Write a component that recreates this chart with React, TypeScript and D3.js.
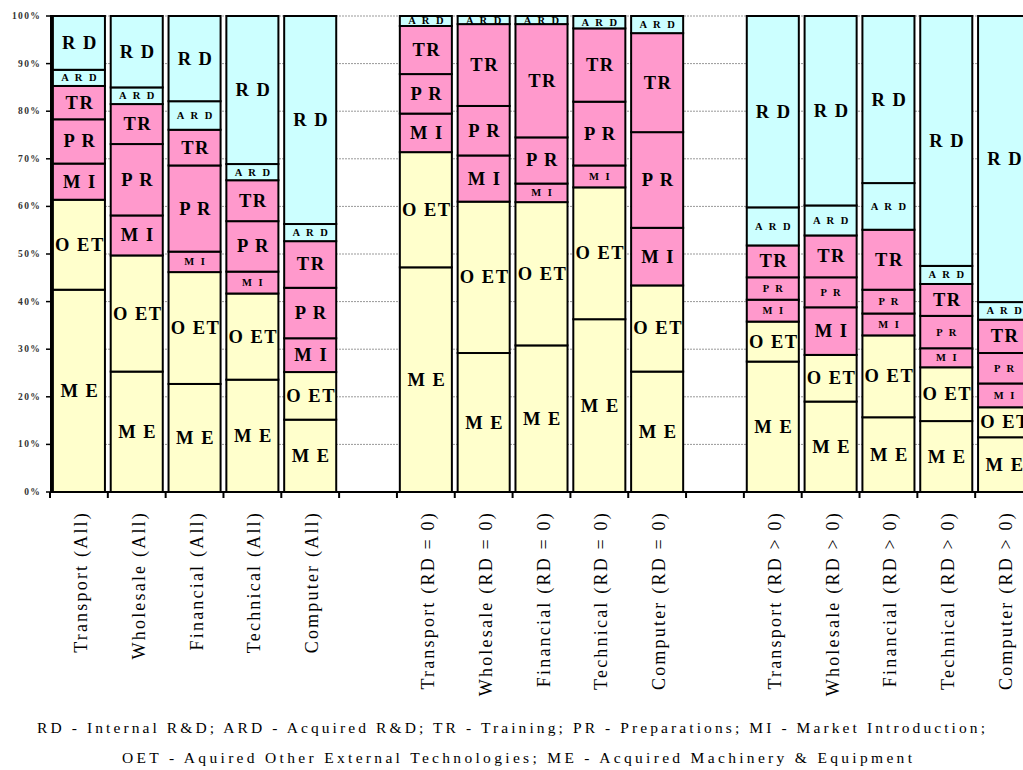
import React from "react";
import * as d3 from "d3";

const categories = [
  "Transport (All)", "Wholesale (All)", "Financial (All)", "Technical (All)", "Computer (All)",
  "Transport (RD = 0)", "Wholesale (RD = 0)", "Financial (RD = 0)", "Technical (RD = 0)", "Computer (RD = 0)",
  "Transport (RD > 0)", "Wholesale (RD > 0)", "Financial (RD > 0)", "Technical (RD > 0)", "Computer (RD > 0)",
];
const groupOf = [0, 0, 0, 0, 0, 1, 1, 1, 1, 1, 2, 2, 2, 2, 2];

const seriesKeys = ["ME", "OET", "MI", "PR", "TR", "ARD", "RD"];
const seriesLabels = ["M E", "O ET", "M I", "P R", "TR", "A R D", "R D"];

const ME = [42.5, 25.3, 22.7, 23.6, 15.2, 47.2, 29.2, 30.8, 36.3, 25.3, 27.4, 19.0, 15.7, 14.9, 11.5];
const OET = [18.9, 24.4, 23.5, 18.1, 10.0, 24.2, 31.8, 30.1, 27.7, 18.1, 8.4, 9.8, 17.2, 11.3, 6.3];
const MI = [7.6, 8.4, 4.3, 4.6, 7.1, 8.1, 9.7, 3.9, 4.6, 12.1, 4.6, 10.0, 4.6, 4.0, 5.0];
const PR = [9.3, 15.0, 18.1, 10.6, 10.6, 8.3, 10.4, 9.7, 13.4, 20.1, 4.7, 6.3, 5.0, 6.8, 6.4];
const TR = [7.0, 8.4, 7.5, 8.6, 9.8, 10.1, 17.2, 23.8, 15.4, 20.8, 6.7, 8.8, 12.6, 6.7, 7.0];
const ARD = [3.4, 3.5, 6.0, 3.4, 3.6, 2.1, 1.7, 1.7, 2.6, 3.6, 8.0, 6.3, 9.8, 3.8, 3.7];
const RD = [11.3, 15.0, 17.9, 31.1, 43.7, 0, 0, 0, 0, 0, 40.2, 39.8, 35.1, 52.5, 60.1];

const yTicks = [0, 10, 20, 30, 40, 50, 60, 70, 80, 90, 100];
const yTickLabels = ["0%", "10%", "20%", "30%", "40%", "50%", "60%", "70%", "80%", "90%", "100%"];

const legendLines = [
  "RD - Internal R&D; ARD - Acquired R&D; TR - Training; PR - Preparations; MI - Market Introduction;",
  "OET - Aquired Other External Technologies; ME - Acquired Machinery & Equipment",
];

const colors: Record<string, string> = {
  ME: "#FFFFCC",
  OET: "#FFFFCC",
  MI: "#FF99CC",
  PR: "#FF99CC",
  TR: "#FF99CC",
  ARD: "#CCFFFF",
  RD: "#CCFFFF",
};

const W = 1023;
const H = 770;
const plotLeft = 51;
const plotTop = 16;
const plotBottom = 492;

export default function App() {
  const table = categories.map((c, i) => ({
    cat: c,
    ME: ME[i], OET: OET[i], MI: MI[i], PR: PR[i], TR: TR[i], ARD: ARD[i], RD: RD[i],
  }));

  // slots: 5 bars, gap, 5 bars, gap, 5 bars
  const slots: string[] = [];
  categories.forEach((c, i) => {
    if (i > 0 && groupOf[i] !== groupOf[i - 1]) slots.push("gap" + groupOf[i]);
    slots.push(c);
  });

  const x = d3.scaleBand<string>().domain(slots).range([50, 1033]).paddingInner(0.1).paddingOuter(0.05);
  const y = d3.scaleLinear().domain([0, 1]).range([plotBottom, plotTop]);
  const yPct = d3.scaleLinear().domain([0, 100]).range([plotBottom, plotTop]);

  const stack = d3.stack<any>().keys(seriesKeys).offset(d3.stackOffsetExpand);
  const layers = stack(table as any);

  const step = x.step();
  const boundaries = slots.map((s) => (x(s) as number) - step * 0.05);
  boundaries.push((x(slots[slots.length - 1]) as number) + x.bandwidth() + step * 0.05);

  const serif = "'Liberation Serif', 'Times New Roman', serif";

  return (
    <svg width={W} height={H} style={{ position: "absolute", left: 0, top: 0, background: "#fff" }}>
      {/* gridlines */}
      {yTicks.slice(1).map((t) => (
        <line key={"g" + t} x1={plotLeft} x2={W} y1={yPct(t)} y2={yPct(t)} stroke="#999" strokeWidth={1} strokeDasharray="2,1" />
      ))}
      {/* bars */}
      {layers.map((layer, li) => {
        const key = seriesKeys[li];
        return (
          <g key={key}>
            {layer.map((d, i) => {
              const v = (d[1] - d[0]) * 100;
              if (v <= 0.01) return null;
              const cat = categories[i];
              const x0 = x(cat) as number;
              const y0 = y(d[1]);
              const y1 = y(d[0]);
              return (
                <rect key={cat} x={x0} y={y0} width={x.bandwidth()} height={y1 - y0} fill={colors[key]} stroke="#000" strokeWidth={2} />
              );
            })}
          </g>
        );
      })}
      {/* segment labels */}
      {layers.map((layer, li) => {
        const key = seriesKeys[li];
        return (
          <g key={"l" + key}>
            {layer.map((d, i) => {
              const v = (d[1] - d[0]) * 100;
              if (v <= 0.5) return null;
              const cat = categories[i];
              const small = key === "ARD" || ((key === "PR" || key === "MI") && v < 7);
              const cx = (x(cat) as number) + x.bandwidth() / 2;
              const cy = (y(d[0]) + y(d[1])) / 2;
              return (
                <text
                  key={cat}
                  x={cx + 1}
                  y={cy}
                  textAnchor="middle"
                  dominantBaseline="central"
                  fontFamily={serif}
                  fontWeight="bold"
                  fontSize={small ? 10.5 : 18.5}
                  letterSpacing={small ? 2 : 1.5}
                  fill="#000"
                >
                  {seriesLabels[li]}
                </text>
              );
            })}
          </g>
        );
      })}
      {/* y axis */}
      <line x1={plotLeft} x2={plotLeft} y1={plotTop - 1} y2={plotBottom + 1} stroke="#000" strokeWidth={2} />
      {yTicks.map((t, i) => (
        <g key={"yt" + t}>
          <line x1={plotLeft - 5} x2={plotLeft} y1={yPct(t)} y2={yPct(t)} stroke="#000" strokeWidth={1.5} />
          <text x={41} y={yPct(t)} textAnchor="end" dominantBaseline="central" fontFamily={serif} fontWeight="bold" fontSize={9.5} letterSpacing={1.3} fill="#333">
            {yTickLabels[i]}
          </text>
        </g>
      ))}
      {/* x axis */}
      <line x1={plotLeft - 1} x2={W} y1={plotBottom} y2={plotBottom} stroke="#000" strokeWidth={2} />
      {boundaries.map((bx, i) => (
        <line key={"xt" + i} x1={bx} x2={bx} y1={plotBottom} y2={plotBottom + 6} stroke="#000" strokeWidth={2} />
      ))}
      {categories.map((c) => {
        const cx = (x(c) as number) + x.bandwidth() / 2 + 2;
        const ty = 511;
        return (
          <text
            key={"xl" + c}
            transform={`translate(${cx},${ty}) rotate(-90)`}
            textAnchor="end"
            dominantBaseline="central"
            fontFamily={serif}
            fontSize={18}
            letterSpacing={2.2}
            fill="#000"
          >
            {c}
          </text>
        );
      })}
      {/* legend */}
      <text x={511} y={733} textAnchor="middle" fontFamily={serif} fontSize={15.5} textLength={948} lengthAdjust="spacing" fill="#000">
        {legendLines[0]}
      </text>
      <text x={517} y={763} textAnchor="middle" fontFamily={serif} fontSize={15.5} textLength={790} lengthAdjust="spacing" fill="#000">
        {legendLines[1]}
      </text>
    </svg>
  );
}
